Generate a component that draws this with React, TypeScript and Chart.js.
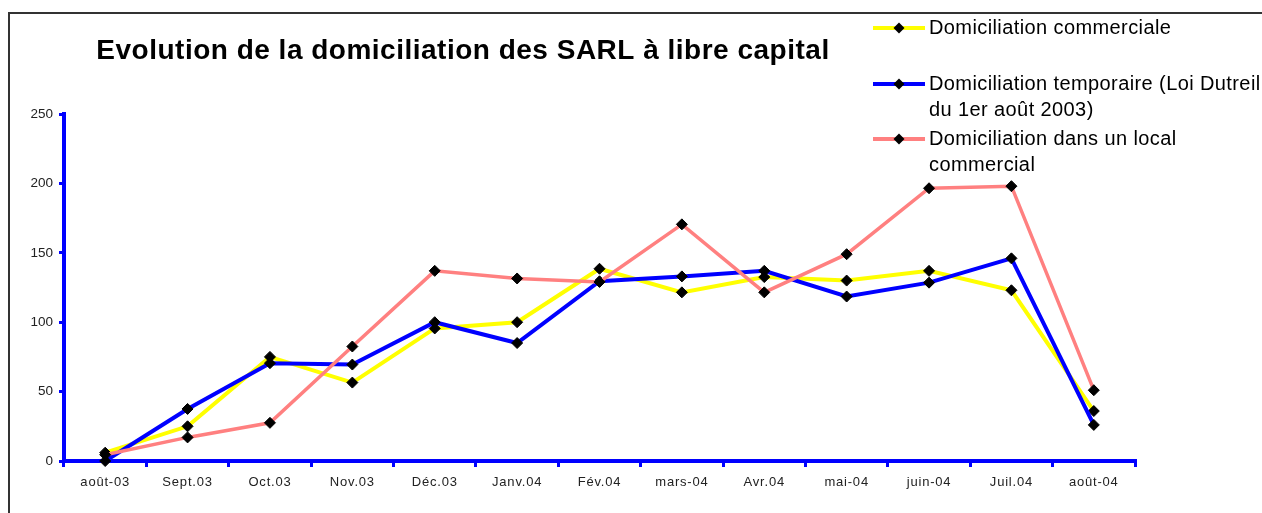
import React, { useEffect, useRef } from "react";
import { Chart, registerables } from "chart.js";

Chart.register(...registerables);

const categories = [
  "août-03", "Sept.03", "Oct.03", "Nov.03", "Déc.03", "Janv.04", "Fév.04",
  "mars-04", "Avr.04", "mai-04", "juin-04", "Juil.04", "août-04",
];
const commerciale = [6, 25, 75, 56.5, 95.5, 100, 138.5, 121.5, 132.5, 130, 137, 123, 36];
const temporaire = [0, 37.5, 70.5, 69.5, 100, 85, 129.5, 133, 137, 118.5, 128.5, 146, 26];
const localCommercial = [4.5, 17, 27.5, 82.5, 137, 131.5, 129, 170.5, 121.5, 149, 196.5, 198, 51];
const seriesLabels = [
  ["Domiciliation commerciale"],
  ["Domiciliation temporaire (Loi Dutreil", "du 1er août 2003)"],
  ["Domiciliation dans un local", "commercial"],
];
const seriesColors = ["#FFFF00", "#0000FF", "#FF8080"];
const yMin = 0;
const yMax = 250;
const yStep = 50;
const title = "Evolution de la domiciliation des SARL à libre capital";

const FONT = '"Liberation Sans", Arial, Helvetica, sans-serif';
const W = 1262;
const H = 513;

const decorPlugin = {
  id: "decor",
  beforeDraw(chart: any) {
    const xs: any = chart.scales.x;
    if (xs && !xs.__patched) {
      const orig = xs.drawLabels;
      xs.drawLabels = function (area: any) {
        const c = this.ctx;
        c.save();
        c.letterSpacing = "0.8px";
        orig.call(this, area);
        c.restore();
      };
      xs.__patched = true;
    }
  },
  afterDraw(chart: any) {
    const ctx = chart.ctx as CanvasRenderingContext2D;
    ctx.save();
    // frame (top and left visible)
    ctx.strokeStyle = "#333";
    ctx.lineWidth = 2;
    ctx.beginPath();
    ctx.moveTo(9, H);
    ctx.lineTo(9, 13);
    ctx.lineTo(W, 13);
    ctx.stroke();

    // title
    ctx.fillStyle = "#000";
    ctx.font = `bold 28px ${FONT}`;
    (ctx as any).letterSpacing = "0.5px";
    ctx.textAlign = "center";
    ctx.textBaseline = "alphabetic";
    ctx.fillText(title, 463, 59);

    // legend
    (ctx as any).letterSpacing = "0.4px";
    ctx.font = `20px ${FONT}`;
    ctx.textAlign = "left";
    const baselines = [34, 90, 145];
    chart.data.datasets.forEach((ds: any, i: number) => {
      const by = baselines[i];
      const ly = by - 6;
      ctx.strokeStyle = ds.borderColor;
      ctx.lineWidth = 4;
      ctx.beginPath();
      ctx.moveTo(873, ly);
      ctx.lineTo(925, ly);
      ctx.stroke();
      ctx.fillStyle = "#000";
      ctx.beginPath();
      ctx.moveTo(899, ly - 5.5);
      ctx.lineTo(904.5, ly);
      ctx.lineTo(899, ly + 5.5);
      ctx.lineTo(893.5, ly);
      ctx.closePath();
      ctx.fill();
      const lines: string[] = seriesLabels[i];
      lines.forEach((t, k) => {
        ctx.fillText(t, 929, by + k * 26);
      });
    });
    ctx.restore();
  },
};

export default function App() {
  const ref = useRef<HTMLCanvasElement | null>(null);
  useEffect(() => {
    if (!ref.current) return;
    const mk = (data: number[], i: number, order: number, bw: number) => ({
      label: seriesLabels[i].join(" "),
      data,
      borderColor: seriesColors[i],
      backgroundColor: seriesColors[i],
      borderWidth: bw,
      tension: 0,
      pointStyle: "rectRot",
      pointRadius: 5.5,
      pointBackgroundColor: "#000",
      pointBorderColor: "#000",
      pointBorderWidth: 1,
      clip: false,
      order,
    });
    const chart = new Chart(ref.current, {
      type: "line",
      data: {
        labels: categories,
        datasets: [
          mk(commerciale, 0, 3, 4),
          mk(temporaire, 1, 2, 4),
          mk(localCommercial, 2, 1, 3.5),
        ] as any,
      },
      options: {
        responsive: false,
        animation: false,
        layout: { padding: { left: 0, right: 127, top: 114, bottom: 12 } },
        plugins: {
          legend: { display: false },
          title: { display: false },
          tooltip: { enabled: false },
        },
        scales: {
          x: {
            type: "category",
            offset: true,
            grid: {
              display: true,
              drawOnChartArea: false,
              drawTicks: true,
              tickLength: 6,
              color: "#0000FF",
              lineWidth: 3,
              offset: true,
            },
            border: { display: true, color: "#0000FF", width: 4 },
            ticks: {
              color: "#222",
              font: { family: FONT, size: 13 },
              padding: 8,
              maxRotation: 0,
              autoSkip: false,
            },
            afterFit: (s: any) => {
              s.height = 40;
            },
          },
          y: {
            min: yMin,
            max: yMax,
            grid: {
              drawOnChartArea: false,
              drawTicks: true,
              tickLength: 5,
              color: "#0000FF",
              lineWidth: 3,
            },
            border: { display: true, color: "#0000FF", width: 4 },
            ticks: {
              stepSize: yStep,
              color: "#222",
              font: { family: FONT, size: 13.5 },
              padding: 6,
            },
            afterFit: (s: any) => {
              s.width = 64;
            },
          },
        },
      } as any,
      plugins: [decorPlugin],
    });
    return () => chart.destroy();
  }, []);
  return (
    <canvas
      ref={ref}
      width={W}
      height={H}
      style={{ position: "fixed", left: 0, top: 0, display: "block", background: "#fff" }}
    />
  );
}
